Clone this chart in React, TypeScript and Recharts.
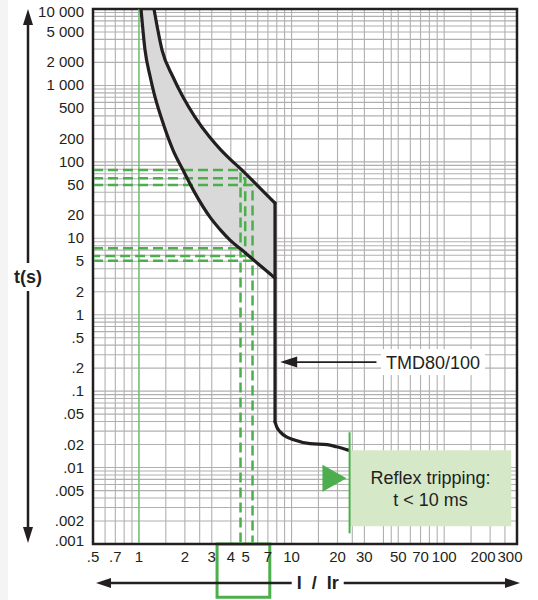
import React from 'react';
import {
  ComposedChart,
  XAxis,
  YAxis,
  CartesianGrid,
  Area,
  Line,
  ReferenceLine,
  ReferenceArea,
  ReferenceDot,
} from 'recharts';

const FONT = '"Liberation Sans", Arial, sans-serif';
const INK = '#231f20';
const GREEN = '#4cae4c';

// grid lines on the I / Ir axis (log)
const xGrid = [
  0.5, 0.6, 0.7, 0.8, 0.9, 1, 1.5, 2, 2.5, 3, 4, 5, 6, 7, 8, 9,
  10, 15, 20, 25, 30, 40, 45, 50, 60, 70, 80, 90, 100, 150, 200, 250, 300,
];
const xTickLabels: Record<string, string> = {
  '0.5': '.5', '0.7': '.7', '1': '1', '2': '2', '3': '3', '4': '4', '5': '5', '7': '7',
  '10': '10', '20': '20', '30': '30', '50': '50', '70': '70', '100': '100', '200': '200', '300': '300',
};
const xLabelShift: Record<string, number> = { '200': -7, '300': -7 };

// grid lines on the t(s) axis (log)
const yDecades = [0.001, 0.01, 0.1, 1, 10, 100, 1000];
const yMultipliers = [1, 2, 3, 4, 5, 6, 7, 8, 9];
const yGrid = [...yDecades.flatMap((d) => yMultipliers.map((m) => +(d * m).toPrecision(2))), 10000];
const yTickLabels: Record<string, string> = {
  '10000': '10 000', '5000': '5 000', '2000': '2 000', '1000': '1 000', '500': '500', '200': '200',
  '100': '100', '50': '50', '20': '20', '10': '10', '5': '5', '2': '2', '1': '1', '0.5': '.5',
  '0.2': '.2', '0.1': '.1', '0.05': '.05', '0.02': '.02', '0.01': '.01', '0.005': '.005',
  '0.002': '.002', '0.001': '.001',
};
const yLabelShift: Record<string, number> = { '10000': 3, '0.001': -3 };

// tripping curve TMD80/100 : current multiple and min / max trip time
const curveX = [1.032, 1.096, 1.182, 1.255, 1.417, 1.672, 1.944, 2.33, 2.922, 3.45, 3.952, 4.735, 6.03, 7.79];
const minTrip = [10000, 2906, 1327, 795, 352, 142.7, 78.1, 39.0, 18.9, 12.6, 9.47, 7.01, 4.65, 3.01];
const maxTrip = [null, null, null, 10000, 2906, 1288, 705, 386, 208, 142.7, 108.8, 78.1, 48.2, 28.9];

// magnetic part
const dropX = [7.79, 7.79];
const dropT = [28.9, 0.0396];
const tailX = [7.79, 7.99, 8.42, 9.27, 10.2, 13.2, 17.1, 19.7, 23.5];
const tailT = [0.0396, 0.0341, 0.0293, 0.0252, 0.0233, 0.0206, 0.02, 0.0187, 0.0169];

// green dashed reading lines
const dashOuterX = [0.5, 4.63, 4.63];
const dashOuterT = [78, 78, 0.001];
const dashOuterLowX = [0.5, 4.63];
const dashOuterLowT = [7.4, 7.4];
const dashMidX = [0.5, 4.97, 4.97, 0.5];
const dashMidT = [60.8, 60.8, 5.85, 5.85];
const dashInnerX = [0.5, 5.55, 5.55];
const dashInnerT = [49.7, 49.7, 0.001];
const dashInnerLowX = [0.5, 5.55];
const dashInnerLowT = [5.08, 5.08];

const pts = (xs: number[], ts: (number | null)[]) =>
  xs.map((x, i) => ({ x, t: ts[i] })).filter((d) => d.t != null);

const bandData = curveX.map((x, i) => ({ x, band: [minTrip[i], maxTrip[i] ?? 10000] }));

const XTick = (props: any) => {
  const { x, y, payload } = props;
  const key = String(payload.value);
  const label = xTickLabels[key];
  if (!label) return <g />;
  return (
    <text x={x + (xLabelShift[key] ?? 0)} y={y + 18} textAnchor="middle" fontSize={15} fill={INK} fontFamily={FONT}>
      {label}
    </text>
  );
};

const YTick = (props: any) => {
  const { x, y, payload } = props;
  const key = String(payload.value);
  const label = yTickLabels[key];
  if (!label) return <g />;
  return (
    <text x={x - 9} y={y + 5 + (yLabelShift[key] ?? 0)} textAnchor="end" fontSize={15} fill={INK} fontFamily={FONT}>
      {label}
    </text>
  );
};

const YArrow = (props: any) => {
  const vb = props.viewBox ?? { x: 0, y: 9, width: 85, height: 535 };
  const ax = vb.x + 20;
  const top = vb.y;
  const bottom = vb.y + vb.height - 1;
  const mid = vb.y + vb.height * 0.501;
  return (
    <g>
      <line x1={ax} y1={top + 10} x2={ax} y2={bottom - 10} stroke={INK} strokeWidth={2.5} />
      <polygon points={`${ax},${top} ${ax - 5},${top + 16} ${ax + 5},${top + 16}`} fill={INK} />
      <polygon points={`${ax},${bottom} ${ax - 5},${bottom - 16} ${ax + 5},${bottom - 16}`} fill={INK} />
      <rect x={ax - 17} y={mid - 14} width={34} height={28} fill="#fff" />
      <text x={ax} y={mid + 6} textAnchor="middle" fontSize={18} fontWeight="bold" fill={INK} fontFamily={FONT}>
        t(s)
      </text>
    </g>
  );
};

const XArrow = (props: any) => {
  const vb = props.viewBox ?? { x: 85, y: 544, width: 424, height: 56 };
  const ay = vb.y + 39;
  const left = vb.x + 3;
  const right = vb.x + vb.width + 3;
  const mid = vb.x + vb.width * 0.53;
  return (
    <g>
      <line x1={left + 10} y1={ay} x2={right - 10} y2={ay} stroke={INK} strokeWidth={2.5} />
      <polygon points={`${left},${ay} ${left + 15},${ay - 5} ${left + 15},${ay + 5}`} fill={INK} />
      <polygon points={`${right},${ay} ${right - 15},${ay - 5} ${right - 15},${ay + 5}`} fill={INK} />
      <rect x={mid - 26} y={ay - 12} width={52} height={24} fill="#fff" />
      <text x={mid} y={ay + 6} textAnchor="middle" fontSize={18} fontWeight="bold" fill={INK} fontFamily={FONT} style={{ whiteSpace: 'pre' }}>
        {'I  /  Ir'}
      </text>
    </g>
  );
};

const ArrowHead = (props: any) => {
  const { cx, cy } = props;
  return <polygon points={`${cx},${cy} ${cx + 17},${cy - 5.5} ${cx + 17},${cy + 5.5}`} fill={INK} />;
};

const TmdLabel = (props: any) => {
  const { cx, cy } = props;
  return (
    <g>
      <rect x={cx - 5} y={cy - 13} width={104} height={26} fill="#fff" />
      <text x={cx} y={cy + 6.5} fontSize={18} fill={INK} fontFamily={FONT}>
        TMD80/100
      </text>
    </g>
  );
};

const GreenTriangle = (props: any) => {
  const { cx, cy } = props;
  return <polygon points={`${cx - 12},${cy - 13.5} ${cx + 12},${cy} ${cx - 12},${cy + 13.5}`} fill={GREEN} />;
};

const ReflexLabel = (props: any) => {
  const vb = props.viewBox;
  if (!vb) return null;
  const cx = vb.x + vb.width / 2;
  const cy = vb.y + vb.height / 2;
  return (
    <g>
      <text x={cx} y={cy - 4} textAnchor="middle" fontSize={18} fill={INK} fontFamily={FONT}>
        Reflex tripping:
      </text>
      <text x={cx} y={cy + 18} textAnchor="middle" fontSize={18} fill={INK} fontFamily={FONT}>
        t &lt; 10 ms
      </text>
    </g>
  );
};

const dashProps = {
  type: 'linear' as const,
  dataKey: 't',
  stroke: GREEN,
  strokeWidth: 2.5,
  strokeDasharray: '10 5',
  dot: false,
  activeDot: false,
  isAnimationActive: false,
};

const curveProps = {
  dataKey: 't',
  stroke: INK,
  strokeWidth: 3.2,
  dot: false,
  activeDot: false,
  isAnimationActive: false,
  strokeLinecap: 'round' as const,
};

export default function App() {
  return (
    <div style={{ position: 'absolute', left: 0, top: 0, width: 538, height: 600, background: '#f4f4f4' }}>
      <div style={{ position: 'absolute', left: 8, top: 0, width: 530, height: 600, background: '#fff' }}>
        <ComposedChart
          width={530}
          height={600}
          data={bandData}
          margin={{ top: 9, right: 21, bottom: 0, left: 0 }}
          style={{ fontFamily: FONT }}
        >
          <CartesianGrid stroke="#b0b0b0" strokeWidth={1.1} />
          <XAxis
            dataKey="x"
            type="number"
            scale="log"
            domain={[0.5, 300]}
            allowDataOverflow
            ticks={xGrid}
            interval={0}
            tick={<XTick />}
            tickLine={false}
            tickSize={0}
            tickMargin={0}
            axisLine={{ stroke: INK, strokeWidth: 2 }}
            height={56}
            label={(p: any) => <XArrow {...p} />}
          />
          <YAxis
            type="number"
            scale="log"
            domain={[0.001, 10000]}
            allowDataOverflow
            ticks={yGrid}
            interval={0}
            tick={<YTick />}
            tickLine={false}
            tickSize={0}
            tickMargin={0}
            axisLine={{ stroke: INK, strokeWidth: 2 }}
            width={85}
            label={(p: any) => <YArrow {...p} />}
          />
          <ReferenceLine x={1} stroke="#6cc36c" strokeWidth={1.3} />
          <Area
            dataKey="band"
            type="monotone"
            stroke="none"
            fill="#d9d9d9"
            fillOpacity={1}
            isAnimationActive={false}
            activeDot={false}
          />
          <Line data={pts(dashOuterX, dashOuterT)} {...dashProps} />
          <Line data={pts(dashOuterLowX, dashOuterLowT)} {...dashProps} />
          <Line data={pts(dashMidX, dashMidT)} {...dashProps} />
          <Line data={pts(dashInnerX, dashInnerT)} {...dashProps} />
          <Line data={pts(dashInnerLowX, dashInnerLowT)} {...dashProps} />
          <Line data={pts(curveX, minTrip)} type="monotone" {...curveProps} />
          <Line data={pts(curveX, maxTrip)} type="monotone" {...curveProps} />
          <Line data={pts(dropX, dropT)} type="linear" {...curveProps} />
          <Line data={pts(tailX, tailT)} type="monotone" {...curveProps} />

          <ReferenceLine
            segment={[{ x: 36, y: 0.24 }, { x: 9.6, y: 0.24 }]}
            stroke={INK}
            strokeWidth={1.8}
            ifOverflow="visible"
          />
          <ReferenceDot x={8.42} y={0.24} shape={(p: any) => <ArrowHead {...p} />} ifOverflow="visible" />
          <ReferenceDot x={41.6} y={0.24} shape={(p: any) => <TmdLabel {...p} />} ifOverflow="visible" />

          <ReferenceArea
            x1={24.1}
            x2={275}
            y1={0.00171}
            y2={0.0169}
            fill="#d5e8c8"
            fillOpacity={1}
            stroke="none"
            ifOverflow="visible"
            label={(p: any) => <ReflexLabel {...p} />}
          />
          <ReferenceLine
            segment={[{ x: 24, y: 0.029 }, { x: 24, y: 0.00138 }]}
            stroke={GREEN}
            strokeWidth={2}
            ifOverflow="visible"
          />
          <ReferenceDot x={19.1} y={0.00726} shape={(p: any) => <GreenTriangle {...p} />} ifOverflow="visible" />

          <ReferenceArea
            x1={3.25}
            x2={7.2}
            y1={0.000201}
            y2={0.001}
            fill="none"
            stroke={GREEN}
            strokeWidth={3}
            ifOverflow="visible"
          />
          <ReferenceArea
            x1={0.5}
            x2={300}
            y1={0.001}
            y2={10000}
            fill="none"
            stroke={INK}
            strokeWidth={2.5}
            ifOverflow="visible"
          />
        </ComposedChart>
      </div>
    </div>
  );
}
